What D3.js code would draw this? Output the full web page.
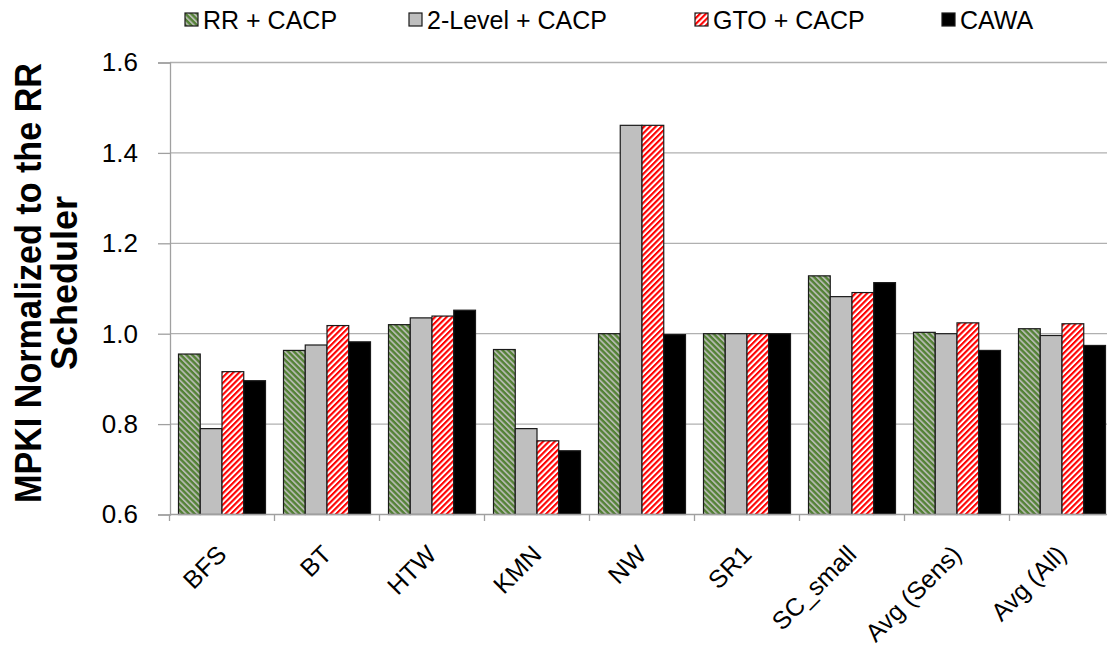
<!DOCTYPE html>
<html>
<head>
<meta charset="utf-8">
<script src="https://cdn.jsdelivr.net/npm/d3@7/dist/d3.min.js"></script>
<style>
  html, body { margin: 0; padding: 0; background: #fff; overflow: hidden; }
  svg { display: block; font-family: "Liberation Sans", Arial, sans-serif; }
</style>
</head>
<body>
<svg id="chart" width="1107" height="651"></svg>
<script>
// Benchmarks along the x axis
const categories = ["BFS", "BT", "HTW", "KMN", "NW", "SR1", "SC_small", "Avg (Sens)", "Avg (All)"];

// Scheduler configurations (legend order)
const seriesNames = ["RR + CACP", "2-Level + CACP", "GTO + CACP", "CAWA"];

// MPKI normalized to the RR scheduler, one array per configuration
const rrCacp      = [0.955, 0.963, 1.020, 0.965, 1.000, 1.000, 1.128, 1.003, 1.011];
const twoLevCacp  = [0.790, 0.975, 1.035, 0.790, 1.461, 1.000, 1.082, 1.000, 0.996];
const gtoCacp     = [0.916, 1.018, 1.039, 0.763, 1.461, 1.000, 1.091, 1.024, 1.022];
const cawa        = [0.896, 0.982, 1.052, 0.741, 0.998, 1.000, 1.113, 0.963, 0.974];

const yTicks = [0.6, 0.8, 1.0, 1.2, 1.4, 1.6];

const seriesValues = [rrCacp, twoLevCacp, gtoCacp, cawa];

const svg = d3.select("#chart");

// ---- fill patterns -------------------------------------------------------
const defs = svg.append("defs");

// green with grey stripes running down to the right
const pg = defs.append("pattern")
  .attr("id", "pat-green")
  .attr("patternUnits", "userSpaceOnUse")
  .attr("width", 4.1).attr("height", 10)
  .attr("patternTransform", "rotate(-45)");
pg.append("rect").attr("width", 4.1).attr("height", 10).attr("fill", "#538135");
pg.append("rect").attr("width", 1.8).attr("height", 10).attr("fill", "#b4b9ae");

// white with red stripes running up to the right
const pr = defs.append("pattern")
  .attr("id", "pat-red")
  .attr("patternUnits", "userSpaceOnUse")
  .attr("width", 4.1).attr("height", 10)
  .attr("patternTransform", "rotate(45)");
pr.append("rect").attr("width", 4.1).attr("height", 10).attr("fill", "#ffffff");
pr.append("rect").attr("width", 2.1).attr("height", 10).attr("fill", "#ff0000");

const fills = ["url(#pat-green)", "#bfbfbf", "url(#pat-red)", "#000000"];

// ---- scales ---------------------------------------------------------------
const x0 = d3.scaleBand()
  .domain(categories)
  .range([169.5, 169.5 + 105 * categories.length])
  .paddingInner(0).paddingOuter(0);

const x1 = d3.scaleBand()
  .domain(seriesNames)
  .range([9, 105 - 9])
  .padding(0);

const y = d3.scaleLinear().domain([0.6, 1.6]).range([514.5, 62.5]);

// ---- gridlines ------------------------------------------------------------
svg.append("g")
  .selectAll("line")
  .data(yTicks.filter(t => t > 0.6))
  .join("line")
  .attr("x1", 170).attr("x2", 1107)
  .attr("y1", d => y(d)).attr("y2", d => y(d))
  .attr("stroke", "#b0b0b0")
  .attr("stroke-width", 1.3);

// ---- bars -----------------------------------------------------------------
const rows = categories.map((c, i) => ({
  cat: c,
  vals: seriesNames.map((s, j) => ({ s, j, v: seriesValues[j][i] }))
}));

const groups = svg.append("g")
  .selectAll("g")
  .data(rows)
  .join("g")
  .attr("transform", d => `translate(${x0(d.cat)},0)`);

groups.selectAll("rect")
  .data(d => d.vals)
  .join("rect")
  .attr("x", d => x1(d.s))
  .attr("width", x1.bandwidth())
  .attr("y", d => y(d.v))
  .attr("height", d => y(0.6) - y(d.v))
  .attr("fill", d => fills[d.j])
  .attr("stroke", "#1a1a1a")
  .attr("stroke-width", 1.2);

// ---- y axis ---------------------------------------------------------------
const yAxis = svg.append("g")
  .attr("transform", "translate(170,0)")
  .call(d3.axisLeft(y).tickValues(yTicks).tickFormat(d3.format(".1f")).tickSize(12).tickPadding(20));
yAxis.select(".domain").attr("stroke", "#a0a0a0").attr("stroke-width", 1.3);
yAxis.selectAll(".tick line").attr("stroke", "#a0a0a0").attr("stroke-width", 1.3);
yAxis.selectAll(".tick text")
  .attr("font-size", 26)
  .attr("fill", "#000")
  .attr("font-family", "Liberation Sans, Arial, sans-serif");

// ---- x axis ---------------------------------------------------------------
const xAxisG = svg.append("g");
xAxisG.append("line")
  .attr("x1", 170).attr("x2", 1107)
  .attr("y1", 514.5).attr("y2", 514.5)
  .attr("stroke", "#a0a0a0").attr("stroke-width", 1.3);

// category boundary ticks
xAxisG.selectAll("line.tk")
  .data(categories)
  .join("line")
  .attr("class", "tk")
  .attr("x1", d => x0(d)).attr("x2", d => x0(d))
  .attr("y1", 514.5).attr("y2", 521)
  .attr("stroke", "#a0a0a0").attr("stroke-width", 1.3);

xAxisG.selectAll("text")
  .data(categories)
  .join("text")
  .attr("transform", d => `translate(${x0(d) + x0.bandwidth() / 2 + 6},${556}) rotate(-45)`)
  .attr("text-anchor", "end")
  .attr("font-size", 25)
  .attr("fill", "#000")
  .text(d => d);

// ---- y axis title -----------------------------------------------------------
const yTitle = svg.append("text")
  .attr("font-size", 36)
  .attr("font-weight", "bold")
  .attr("fill", "#000")
  .attr("text-anchor", "middle")
  .attr("transform", "translate(41,283) rotate(-90)");
yTitle.append("tspan").attr("x", 0).attr("y", 0).attr("textLength", 440).attr("lengthAdjust", "spacingAndGlyphs").text("MPKI Normalized to the RR");
yTitle.append("tspan").attr("x", 0).attr("y", 36).text("Scheduler");

// ---- legend ---------------------------------------------------------------
const legendX = [185, 409, 695, 942];
const legend = svg.append("g")
  .selectAll("g")
  .data(seriesNames)
  .join("g")
  .attr("transform", (d, i) => `translate(${legendX[i]},0)`);

legend.append("rect")
  .attr("x", 0).attr("y", 13)
  .attr("width", 13).attr("height", 13)
  .attr("fill", (d, i) => fills[i])
  .attr("stroke", "#1a1a1a")
  .attr("stroke-width", 1.2);

legend.append("text")
  .attr("x", 18).attr("y", 29)
  .attr("font-size", 25)
  .attr("fill", "#000")
  .text(d => d);
</script>
</body>
</html>
